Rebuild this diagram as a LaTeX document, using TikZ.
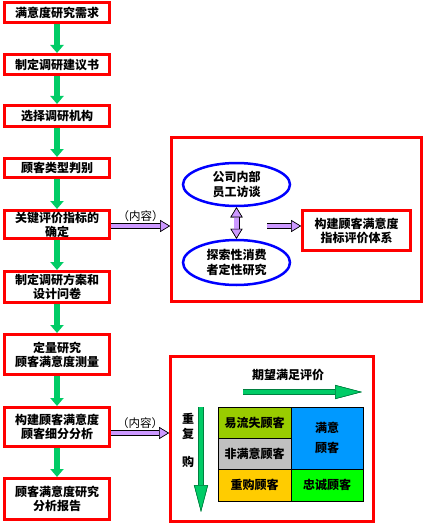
\documentclass[tikz,border=0pt]{standalone}
\usepackage{fontspec}
\setmainfont{Noto Sans CJK SC}
\usetikzlibrary{arrows.meta,shapes.geometric}
\definecolor{flowgreen}{RGB}{0,204,102}
\definecolor{darkgreen}{RGB}{0,128,64}
\definecolor{lilac}{RGB}{204,153,255}
\definecolor{lossgreen}{RGB}{153,204,0}
\definecolor{nongray}{RGB}{192,192,192}
\definecolor{regold}{RGB}{255,204,0}
\definecolor{satblue}{RGB}{0,153,255}
\definecolor{loyalgreen}{RGB}{0,255,0}
\tikzset{
  lt/.tip={Triangle[length=10pt,width=12pt,fill=lilac,color=black,line width=0.6pt]},
  gv/.tip={Triangle[length=27pt,width=14pt,fill=flowgreen,color=darkgreen,line width=0.6pt]},
  stepbox/.style={draw=red, line width=3pt, minimum width=105pt, inner sep=0pt,
    align=center, font=\fontsize{12}{14}\selectfont\bfseries},
  panel/.style={draw=red, line width=3pt, inner sep=0pt},
  oval/.style={ellipse, draw=blue, line width=2.5pt, inner sep=0pt, align=center,
    font=\fontsize{12}{15}\selectfont\bfseries},
  cell/.style={draw=black, line width=0.8pt, inner sep=0pt, align=center,
    font=\fontsize{12}{20}\selectfont\bfseries},
  label/.style={font=\fontsize{12}{14}\selectfont\bfseries, inner sep=0pt},
  note/.style={text=black, font=\fontsize{11.5}{12}\selectfont, inner sep=2pt},
  flow/.style={flowgreen, line width=6pt, -{Triangle[length=8pt,width=13pt]}},
  fat/.style={line width=4.8pt, lilac, #1, preaction={draw=black, line width=6pt, #1}},
  fat/.default={-lt},
  gfat/.style={line width=4.5pt, flowgreen, #1, preaction={draw=darkgreen, line width=6pt, #1}}
}
\begin{document}
\begin{tikzpicture}[x=1pt,y=-1pt]
\useasboundingbox (0,0) rectangle (424,524);
\fill[white] (0,0) rectangle (424,524);
% LHS
\node[stepbox, minimum height=20pt] (s1) at (57,12.5) {满意度研究需求};
\node[stepbox, minimum height=20pt] (s2) at (57,64.5) {制定调研建议书};
\node[stepbox, minimum height=21pt] (s3) at (57,116) {选择调研机构};
\node[stepbox, minimum height=19pt] (s4) at (57,168) {顾客类型判别};
\node[stepbox, minimum height=28pt] (s5) at (57,224.5) {关键评价指标的\\确定};
\node[stepbox, minimum height=31pt] (s6) at (57,287) {制定调研方案和\\设计问卷};
\node[stepbox, minimum height=40pt] (s7) at (57,354.5) {定量研究\\顾客满意度测量};
\node[stepbox, minimum height=39pt] (s8) at (57,427) {构建顾客满意度\\顾客细分分析};
\node[stepbox, minimum height=41pt] (s9) at (57,499) {顾客满意度研究\\分析报告};
\foreach \a/\b in {s1/s2,s2/s3,s3/s4,s4/s5,s5/s6,s6/s7,s7/s8,s8/s9}
  \draw[flow] (\a) -- (\b);
% RHS top
\node[panel, minimum width=250pt, minimum height=164pt] (p1) at (296.5,219.5) {};
\node[oval, minimum width=107pt, minimum height=43pt] (e1) at (236.5,184.5) {公司内部\\员工访谈};
\node[oval, minimum width=107pt, minimum height=45pt] (e2) at (236.5,262.5) {探索性消费\\者定性研究};
\node[stepbox, minimum width=108pt, minimum height=40pt] (k) at (356.5,230.5) {构建顾客满意度\\指标评价体系};
\coordinate (m) at (267,226);
\draw[fat=lt-lt] (e1) -- (e2);
\draw[fat] (m) -- (m -| k.west);
\draw[fat] ([yshift=-1.5pt]s5.east) -- node[above, note, pos=0.5] {（内容）} ([yshift=-1.5pt]s5.east -| p1.west);
% RHS bottom
\node[panel, minimum width=203pt, minimum height=165pt] (p2) at (272,439) {};
\draw[fat] ([yshift=-6pt]s8.east) -- node[above, note, pos=0.5] {（内容）} ([yshift=-6pt]s8.east -| p2.west);
\node[label] (t) at (288,375) {期望满足评价};
\coordinate (h0) at (243,392);
\coordinate (h1) at (362,392);
\draw[gfat=-gv] (h0) -- (h1);
\node[label] (r1) at (188,419) {重};
\node[label] (r2) at (188,434) {复};
\node[label] (r3) at (188,462) {购};
\coordinate (v0) at (201,407);
\coordinate (v1) at (201,512);
\draw[gfat=-gv] (v0) -- (v1);
\node[cell, fill=lossgreen, minimum width=73pt, minimum height=31pt] (c1) at (254.5,422.5) {易流失顾客};
\node[cell, fill=nongray, minimum width=73pt, minimum height=31pt] (c2) at (254.5,453.5) {非满意顾客};
\node[cell, fill=regold, minimum width=73pt, minimum height=32pt] (c3) at (254.5,485) {重购顾客};
\node[cell, fill=satblue, minimum width=72pt, minimum height=62pt] (c4) at (327,438) {满意\\顾客};
\node[cell, fill=loyalgreen, minimum width=72pt, minimum height=32pt] (c5) at (327,485) {忠诚顾客};
\end{tikzpicture}
\end{document}
